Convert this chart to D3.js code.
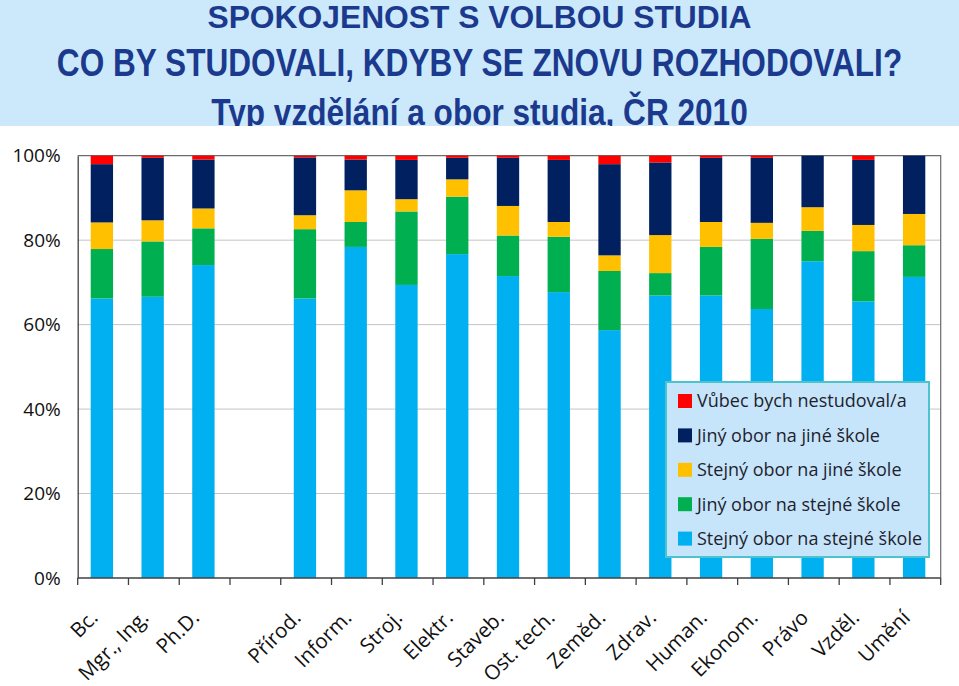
<!DOCTYPE html>
<html lang="cs">
<head>
	<meta charset="UTF-8">
	<title>spokojenost s volbou studia</title>
	<script src="https://d3js.org/d3.v7.min.js"></script>
	<style type="text/css">
		body{
			margin: 0;
			background: #fff;
		}
		.title{
			font-family: "Liberation Sans", Arial, sans-serif;
			font-weight: bold;
			fill: #1b3a8e;
			text-anchor: middle;
		}
		.axis text{
			font-family: "Open Sans", sans-serif;
			fill: #111;
		}
	</style>
</head>
<body>
<script type="text/javascript">

	// data (podily v %)
	var categories = ["Bc.", "Mgr., Ing.", "Ph.D.", "", "Přírod.", "Inform.", "Stroj.", "Elektr.", "Staveb.", "Ost. tech.", "Zeměd.", "Zdrav.", "Human.", "Ekonom.", "Právo", "Vzděl.", "Umění"];

	var stejnyStejna = [66.2, 66.6, 74.1, null, 66.2, 78.4, 69.4, 76.7, 71.5, 67.7, 58.7, 66.9, 66.9, 63.7, 75.0, 65.5, 71.3];
	var jinyStejna   = [11.7, 13.1, 8.7, null, 16.4, 5.9, 17.4, 13.6, 9.6, 13.1, 14.0, 5.3, 11.5, 16.6, 7.2, 11.9, 7.5];
	var stejnyJina   = [6.3, 5.0, 4.7, null, 3.3, 7.5, 2.9, 4.1, 7.0, 3.5, 3.7, 9.0, 5.9, 3.8, 5.6, 6.2, 7.4];
	var jinyJina     = [13.8, 14.8, 11.6, null, 13.7, 7.3, 9.3, 5.1, 11.4, 14.7, 21.6, 17.2, 15.2, 15.4, 12.2, 15.4, 13.8];
	var vubec        = [2.0, 0.5, 0.9, null, 0.4, 0.9, 1.0, 0.5, 0.5, 1.0, 2.0, 1.6, 0.5, 0.5, 0.0, 1.0, 0.0];

	var seriesKeys = ["stejnyStejna", "jinyStejna", "stejnyJina", "jinyJina", "vubec"];
	var seriesNames = ["Stejný obor na stejné škole", "Jiný obor na stejné škole", "Stejný obor na jiné škole", "Jiný obor na jiné škole", "Vůbec bych nestudoval/a"];
	var seriesColors = ["#00b0f0", "#00b050", "#ffc000", "#002060", "#ff0000"];

	var yTicks = [0, 20, 40, 60, 80, 100];

	var titles = ["SPOKOJENOST S VOLBOU STUDIA", "CO BY STUDOVALI, KDYBY SE ZNOVU ROZHODOVALI?", "Typ vzdělání a obor studia, ČR 2010"];

	var W = 959, H = 686;
	var margin = {top: 155.7, left: 77.7, bottom: 686 - 578, right: 959 - 940.7};
	var width = W - margin.left - margin.right;
	var height = H - margin.top - margin.bottom;

	var root = d3.select('body').append('svg')
		.attr('width', W)
		.attr('height', H);

	//title band
	root.append('rect')
		.attr('width', W)
		.attr('height', 126)
		.attr('fill', '#cbe9fb');

	// lines 2 and 3 are a bit stretched upwards in the original slide
	var titleSpec = [
		{size: 31.8, y: 27.5, sy: 1},
		{size: 31.6, y: 76, sy: 1.2},
		{size: 31.6, y: 125, sy: 1.17}
	];
	root.selectAll('.title')
		.data(titles)
		.enter().append('text')
		.attr('class', 'title')
		.attr('transform', function (d, i) {
			return 'translate(479.5,' + titleSpec[i].y + ') scale(1,' + titleSpec[i].sy + ')';
		})
		.style('font-size', function (d, i) { return titleSpec[i].size + 'px'; })
		.text(function (d) { return d; });

	// white chart area covers the bottom of the last title line
	root.append('rect')
		.attr('y', 126)
		.attr('width', W)
		.attr('height', H - 126)
		.attr('fill', '#ffffff');

	var svg = root.append('g')
		.attr('transform', 'translate(' + margin.left + ',' + margin.top + ')');

	var table = categories.map(function (c, i) {
		return {
			cat: c,
			stejnyStejna: stejnyStejna[i] || 0,
			jinyStejna: jinyStejna[i] || 0,
			stejnyJina: stejnyJina[i] || 0,
			jinyJina: jinyJina[i] || 0,
			vubec: vubec[i] || 0
		};
	});

	var stacked = d3.stack().keys(seriesKeys)(table);

	//scaling
	var x = d3.scaleBand()
		.range([0, width])
		.domain(categories.map(function (c, i) { return i; }))
		.padding(0);

	var barW = x.step() * 0.44;

	var y = d3.scaleLinear()
		.range([height, 0])
		.domain([0, 100]);

	//grid
	svg.selectAll('.grid')
		.data(yTicks.filter(function (t) { return t > 0 && t < 100; }))
		.enter().append('line')
		.attr('class', 'grid')
		.attr('x1', 0)
		.attr('x2', width)
		.attr('y1', function (d) { return y(d); })
		.attr('y2', function (d) { return y(d); })
		.style('stroke', '#c4c4c4')
		.style('stroke-width', 1);

	// plot border top + right
	svg.append('path')
		.attr('d', 'M0,' + y(100) + 'H' + width + 'V' + y(0))
		.style('fill', 'none')
		.style('stroke', '#6b6b6b')
		.style('stroke-width', 1.2);

	//bars
	svg.selectAll('.serie')
		.data(stacked)
		.enter().append('g')
		.attr('class', 'serie')
		.style('fill', function (d, i) { return seriesColors[i]; })
		.selectAll('rect')
		.data(function (d) { return d.filter(function (p, i) { return categories[i] !== "" && p[1] > p[0]; }); })
		.enter().append('rect')
		.attr('x', function (d) { return x(categories.indexOf(d.data.cat)) + (x.step() - barW) / 2 - 1.2; })
		.attr('width', barW)
		.attr('y', function (d) { return y(d[1]); })
		.attr('height', function (d) { return y(d[0]) - y(d[1]); });

	//draw axis
	var yAxis = svg.append('g')
		.attr('class', 'axis')
		.call(d3.axisLeft(y)
			.tickValues(yTicks)
			.tickSize(0)
			.tickPadding(17)
			.tickFormat(function (d) { return d + '%'; }));
	yAxis.select('.domain')
		.style('stroke', '#404040')
		.style('stroke-width', 1.3);
	yAxis.selectAll('text')
		.style('font-size', '19px');

	var xAxis = svg.append('g')
		.attr('class', 'axis')
		.attr('transform', 'translate(0,' + height + ')');
	xAxis.append('line')
		.attr('x1', 0)
		.attr('x2', width)
		.style('stroke', '#404040')
		.style('stroke-width', 1.3);
	xAxis.selectAll('.tick')
		.data(d3.range(categories.length + 1))
		.enter().append('line')
		.attr('class', 'tick')
		.attr('x1', function (d) { return d * x.step(); })
		.attr('x2', function (d) { return d * x.step(); })
		.attr('y1', 0)
		.attr('y2', 7)
		.style('stroke', '#404040')
		.style('stroke-width', 1.3);

	//labelling
	xAxis.selectAll('.lab')
		.data(categories)
		.enter().append('text')
		.attr('class', 'lab')
		.attr('transform', function (d, i) {
			return 'translate(' + (x(i) + x.step() / 2 - 4) + ',41) rotate(-45)';
		})
		.style('text-anchor', 'end')
		.style('font-size', '20.5px')
		.text(function (d) { return d; });

	// Legend //
	var legend = root.append('g')
		.attr('class', 'legend')
		.attr('transform', 'translate(666,382)');
	legend.append('rect')
		.attr('width', 263)
		.attr('height', 175)
		.style('fill', '#c6e5fb')
		.style('stroke', '#4ec3d0')
		.style('stroke-width', 2);

	var items = legend.selectAll('.info')
		.data(d3.range(seriesNames.length).reverse())
		.enter().append('g')
		.attr('class', 'info')
		.attr('transform', function (d, i) {
			return 'translate(12,' + (19 + i * 34.4) + ')';
		});
	items.append('rect')
		.attr('y', -7)
		.attr('width', 14)
		.attr('height', 14)
		.style('fill', function (d) { return seriesColors[d]; });
	items.append('text')
		.attr('x', 19)
		.attr('dy', '0.35em')
		.style('font-family', '"Open Sans", sans-serif')
		.style('font-size', '18px')
		.style('fill', '#1f1f2e')
		.text(function (d) { return seriesNames[d]; });

</script>
</body>
</html>
